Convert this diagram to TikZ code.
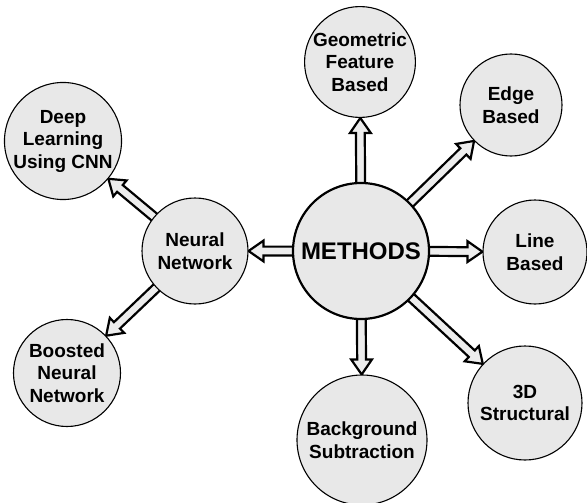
\documentclass[tikz,border=0pt]{standalone}
\usepackage{fontspec}
\setmainfont{Liberation Sans}
\usetikzlibrary{calc,backgrounds}

\tikzset{
  topic/.style={circle, draw=black, line width=1.1pt, fill=black!9,
    inner sep=0pt, align=center,
    font=\fontsize{19}{22.5}\selectfont\bfseries},
  hub/.style={topic, line width=2.2pt,
    font=\fontsize{24}{28}\selectfont\bfseries},
  blockarrow/.style={draw=black, line width=2.2pt, fill=black!7,
    line join=miter},
}

% Hollow block arrow from the border of node #1 to the border of node #2
\newcommand\hollowarrow[2]{%
  \path (#1) -- (#2) coordinate[pos=0] (ha-s) coordinate[pos=1] (ha-e);
  \draw[blockarrow] let \p1=($(ha-e)-(ha-s)$), \n1={atan2(\y1,\x1)} in
    ($(ha-s)+(\n1+180:6pt)+(\n1+90:4.4pt)$)
    -- ($(ha-e)+(\n1+180:15pt)+(\n1+90:4.4pt)$)
    -- ($(ha-e)+(\n1+180:15pt)+(\n1+90:10.4pt)$)
    -- (ha-e)
    -- ($(ha-e)+(\n1+180:15pt)+(\n1-90:10.4pt)$)
    -- ($(ha-e)+(\n1+180:15pt)+(\n1-90:4.4pt)$)
    -- ($(ha-s)+(\n1+180:6pt)+(\n1-90:4.4pt)$)
    -- cycle;%
}

\begin{document}
\begin{tikzpicture}[x=1pt, y=-1pt]
  \useasboundingbox (0,0) rectangle (587,503);

  % central hub
  \node[hub, minimum size=136pt] (methods) at (361,251) {METHODS};

  % method families
  \node[topic, minimum size=110pt] (geo)   at (360,62)  {Geometric\\Feature\\Based};
  \node[topic, minimum size=102pt] (edge)  at (511,105) {Edge\\Based};
  \node[topic, minimum size=104pt] (line)  at (535,252) {Line\\Based};
  \node[topic, minimum size=114pt] (struc) at (525,403) {3D\\Structural};
  \node[topic, minimum size=130pt] (bgsub) at (362,440) {Background\\Subtraction};
  \node[topic, minimum size=106pt] (nn)    at (195,251) {Neural\\Network};

  % neural network variants
  \node[topic, minimum size=114pt] (deep)  at (63,141)  {Deep\\Learning\\Using CNN};
  \node[topic, minimum size=107pt] (boost) at (67,373)  {Boosted\\Neural\\Network};

  \begin{pgfonlayer}{background}
    \hollowarrow{methods}{geo}
    \hollowarrow{methods}{edge}
    \hollowarrow{methods}{line}
    \hollowarrow{methods}{struc}
    \hollowarrow{methods}{bgsub}
    \hollowarrow{methods}{nn}
    \hollowarrow{nn}{deep}
    \hollowarrow{nn}{boost}
  \end{pgfonlayer}
\end{tikzpicture}
\end{document}
